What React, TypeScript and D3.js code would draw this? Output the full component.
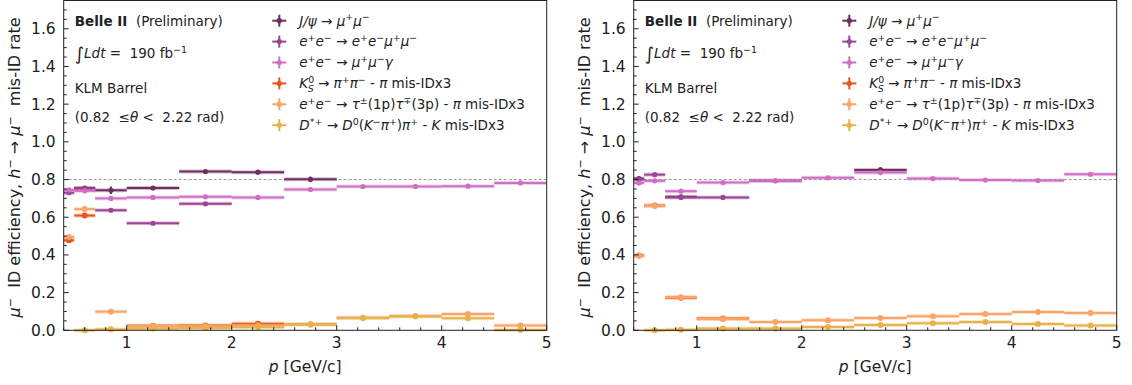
import * as d3 from 'd3';

// momentum bins [GeV/c]
const binLo = [0.4, 0.5, 0.7, 1.0, 1.5, 2.0, 2.5, 3.0, 3.5, 4.0, 4.5];
const binHi = [0.5, 0.7, 1.0, 1.5, 2.0, 2.5, 3.0, 3.5, 4.0, 4.5, 5.0];

// left panel values
const jpsiL = [null, 0.755, 0.743, 0.755, 0.842, 0.839, 0.801, null, null, null, null];
const jpsiErrL = [0, 0.006, 0.02, 0.005, 0.005, 0.005, 0.015, 0, 0, 0, 0];
const eeuuL = [0.73, 0.752, 0.637, 0.568, 0.671, null, null, null, null, null, null];
const uugL = [0.745, 0.74, 0.7, 0.705, 0.708, 0.705, 0.747, 0.763, 0.763, 0.765, 0.782];
const ksL = [0.478, 0.609, null, 0.024, 0.026, 0.035, null, null, null, null, null];
const tauL = [0.495, 0.643, 0.099, 0.023, 0.022, 0.025, 0.034, 0.066, 0.075, 0.086, 0.026];
const dstL = [null, 0.0, 0.005, 0.01, 0.012, 0.016, 0.03, 0.065, 0.074, 0.064, 0.002];

// right panel values
const jpsiR = [0.805, null, 0.708, null, null, null, 0.851, null, null, null, null];
const jpsiErrR = [0.006, 0, 0.01, 0, 0, 0, 0.015, 0, 0, 0, 0];
const eeuuR = [0.8, 0.826, 0.705, 0.705, 0.793, null, null, null, null, null, null];
const uugR = [0.782, 0.793, 0.738, 0.784, 0.795, 0.809, 0.837, 0.805, 0.797, 0.795, 0.828];
const ksR = [0.397, 0.662, 0.173, 0.063, null, null, null, null, null, null, null];
const tauR = [0.395, 0.66, 0.176, 0.06, 0.044, 0.053, 0.065, 0.074, 0.086, 0.097, 0.092];
const dstR = [null, 0.0, 0.003, 0.01, 0.01, 0.017, 0.028, 0.037, 0.044, 0.034, 0.025];

const colors = ['#6e2f63', '#9c4592', '#d06ec4', '#e8561c', '#fba466', '#e8b24a'];

type Seg = { t: string; it?: boolean; sup?: boolean; sub?: boolean; dx?: number };

const legendLabels: Seg[][] = [
  [{ t: 'J/ψ', it: true }, { t: ' → ' }, { t: 'μ', it: true }, { t: '+', sup: true }, { t: 'μ', it: true }, { t: '−', sup: true }],
  [{ t: 'e', it: true }, { t: '+', sup: true }, { t: 'e', it: true }, { t: '−', sup: true }, { t: ' → ' }, { t: 'e', it: true }, { t: '+', sup: true }, { t: 'e', it: true }, { t: '−', sup: true }, { t: 'μ', it: true }, { t: '+', sup: true }, { t: 'μ', it: true }, { t: '−', sup: true }],
  [{ t: 'e', it: true }, { t: '+', sup: true }, { t: 'e', it: true }, { t: '−', sup: true }, { t: ' → ' }, { t: 'μ', it: true }, { t: '+', sup: true }, { t: 'μ', it: true }, { t: '−', sup: true }, { t: 'γ', it: true }],
  [{ t: 'K', it: true }, { t: '0', sup: true }, { t: 'S', it: true, sub: true, dx: -6.5 }, { t: ' → ' }, { t: 'π', it: true }, { t: '+', sup: true }, { t: 'π', it: true }, { t: '−', sup: true }, { t: ' - ' }, { t: 'π', it: true }, { t: ' mis-IDx3' }],
  [{ t: 'e', it: true }, { t: '+', sup: true }, { t: 'e', it: true }, { t: '−', sup: true }, { t: ' → ' }, { t: 'τ', it: true }, { t: '±', sup: true }, { t: '(1p)' }, { t: 'τ', it: true }, { t: '∓', sup: true }, { t: '(3p) - ' }, { t: 'π', it: true }, { t: ' mis-IDx3' }],
  [{ t: 'D', it: true }, { t: '*+', sup: true }, { t: ' → ' }, { t: 'D', it: true }, { t: '0', sup: true }, { t: '(' }, { t: 'K', it: true }, { t: '−', sup: true }, { t: 'π', it: true }, { t: '+', sup: true }, { t: ')' }, { t: 'π', it: true }, { t: '+', sup: true }, { t: ' - ' }, { t: 'K', it: true }, { t: ' mis-IDx3' }],
];

const FONT = 'DejaVu Sans';
const TXT = '#222';
const PRE = { whiteSpace: 'pre' as const };
const LS = 13.5;

function MathText({ x, y, segs, size }: { x: number; y: number; segs: Seg[]; size: number }) {
  let cur = 0;
  return (
    <text x={x} y={y} fontSize={size} fontFamily={FONT} fill={TXT} style={PRE}>
      {segs.map((s, i) => {
        const target = s.sup ? -size * 0.4 : s.sub ? size * 0.25 : 0;
        const dy = target - cur;
        cur = target;
        return (
          <tspan key={i} dy={dy} dx={s.dx || 0} fontStyle={s.it ? 'italic' : 'normal'} fontSize={s.sup || s.sub ? size * 0.7 : size}>
            {s.t}
          </tspan>
        );
      })}
    </text>
  );
}

const PW = 483;
const TOP = 0.5;
const BOTTOM = 330.3;

function Panel({ x0, series, errs }: { x0: number; series: (number | null)[][]; errs: number[] }) {
  const x = d3.scaleLinear().domain([0.4, 5]).range([x0, x0 + PW]);
  const y = d3.scaleLinear().domain([0, 1.75]).range([BOTTOM, TOP]);
  const yMajor = d3.range(0, 1.61, 0.2);
  const yMinor = d3.range(0, 1.751, 0.05).filter((v) => Math.abs(v / 0.2 - Math.round(v / 0.2)) > 0.01);
  const xMajor = [1, 2, 3, 4, 5];
  const xMinor = d3.range(0.4, 5.001, 0.2).filter((v) => Math.abs(v - Math.round(v)) > 0.01);

  return (
    <g>
      {/* reference line */}
      <line x1={x(0.4)} x2={x(5)} y1={y(0.8)} y2={y(0.8)} stroke="#999" strokeWidth={1} strokeDasharray="3,2" />
      {series.map((vals, si) => (
        <g key={si}>
          {vals.map((v, i) => {
            if (v === null) return null;
            const c = (binLo[i] + binHi[i]) / 2;
            const e = si === 0 ? errs[i] : 0;
            return (
              <g key={i}>
                <line x1={x(binLo[i])} x2={x(binHi[i])} y1={y(v)} y2={y(v)} stroke={colors[si]} strokeWidth={4} opacity={0.3} />
                <line x1={x(binLo[i])} x2={x(binHi[i])} y1={y(v)} y2={y(v)} stroke={colors[si]} strokeWidth={2} />
                {e > 0 && <line x1={x(c)} x2={x(c)} y1={y(v - e)} y2={y(v + e)} stroke={colors[si]} strokeWidth={2} />}
                <circle cx={x(c)} cy={y(v)} r={si < 3 ? 2.6 : 3} fill={colors[si]} />
              </g>
            );
          })}
        </g>
      ))}
      {/* frame */}
      <rect x={x(0.4)} y={TOP} width={PW} height={BOTTOM - TOP} fill="none" stroke={TXT} strokeWidth={1} />
      {yMajor.map((v) => (
        <g key={'ym' + v}>
          <line x1={x0} x2={x0 + 5} y1={y(v)} y2={y(v)} stroke={TXT} />
          <text x={x0 - 8} y={y(v)} dy="0.35em" textAnchor="end" fontSize={15.5} fontFamily={FONT} fill={TXT}>
            {v.toFixed(1)}
          </text>
        </g>
      ))}
      {yMinor.map((v) => (
        <line key={'yn' + v} x1={x0} x2={x0 + 3} y1={y(v)} y2={y(v)} stroke={TXT} />
      ))}
      {xMajor.map((v) => (
        <g key={'xm' + v}>
          <line x1={x(v)} x2={x(v)} y1={BOTTOM} y2={BOTTOM - 5} stroke={TXT} />
          <text x={x(v)} y={BOTTOM + 18} textAnchor="middle" fontSize={15.5} fontFamily={FONT} fill={TXT}>
            {v}
          </text>
        </g>
      ))}
      {xMinor.map((v) => (
        <line key={'xn' + v} x1={x(v)} x2={x(v)} y1={BOTTOM} y2={BOTTOM - 3} stroke={TXT} />
      ))}
      <text x={x0 + PW / 2} y={372} textAnchor="middle" fontSize={15.5} fontFamily={FONT} fill={TXT}>
        <tspan fontStyle="italic">p</tspan> [GeV/c]
      </text>
      <text transform={`translate(${x0 - 44},${(TOP + BOTTOM) / 2 + 2}) rotate(-90)`} textAnchor="middle" fontSize={16} fontFamily={FONT} fill={TXT} style={PRE}>
        <tspan fontStyle="italic">μ</tspan>
        <tspan fontSize={11} dy={-6}>−</tspan>
        <tspan dy={6}>{'  ID efficiency, '}</tspan>
        <tspan fontStyle="italic">h</tspan>
        <tspan fontSize={11} dy={-6}>−</tspan>
        <tspan dy={6}>{' → '}</tspan>
        <tspan fontStyle="italic">μ</tspan>
        <tspan fontSize={11} dy={-6}>−</tspan>
        <tspan dy={6}>{'  mis-ID rate'}</tspan>
      </text>
      {/* annotations */}
      <text x={x0 + 11} y={26} fontSize={LS} fontFamily={FONT} fill={TXT} style={PRE}>
        <tspan fontWeight="bold">Belle II</tspan>
        <tspan>{'  (Preliminary)'}</tspan>
      </text>
      <text x={x0 + 11} y={58} fontSize={LS} fontFamily={FONT} fill={TXT} style={PRE}>
        <tspan fontSize={18} dy={2}>∫</tspan>
        <tspan fontStyle="italic" dy={-2}>Ldt</tspan>
        <tspan>{' =  190 fb'}</tspan>
        <tspan fontSize={9.5} dy={-5}>−1</tspan>
      </text>
      <text x={x0 + 11} y={93} fontSize={LS} fontFamily={FONT} fill={TXT}>
        KLM Barrel
      </text>
      <text x={x0 + 11} y={122} fontSize={LS} fontFamily={FONT} fill={TXT} style={PRE}>
        <tspan>{'(0.82  ≤'}</tspan>
        <tspan fontStyle="italic">θ</tspan>
        <tspan>{' <  2.22 rad)'}</tspan>
      </text>
      {/* legend */}
      {legendLabels.map((segs, i) => {
        const ly = 20.7 + i * 20.9;
        const lx = x0 + 215.6;
        return (
          <g key={'lg' + i}>
            <line x1={lx - 7} x2={lx + 7} y1={ly} y2={ly} stroke={colors[i]} strokeWidth={2} />
            <line x1={lx} x2={lx} y1={ly - 6} y2={ly + 6} stroke={colors[i]} strokeWidth={2} />
            <circle cx={lx} cy={ly} r={2.6} fill={colors[i]} />
            <MathText x={lx + 20} y={ly + 4.8} segs={segs} size={LS} />
          </g>
        );
      })}
    </g>
  );
}

export default function App() {
  return (
    <svg width={1132} height={385} style={{ position: 'absolute', left: 0, top: 0, background: '#fff' }}>
      <Panel x0={63.7} series={[jpsiL, eeuuL, uugL, ksL, tauL, dstL]} errs={jpsiErrL} />
      <Panel x0={633.7} series={[jpsiR, eeuuR, uugR, ksR, tauR, dstR]} errs={jpsiErrR} />
    </svg>
  );
}
